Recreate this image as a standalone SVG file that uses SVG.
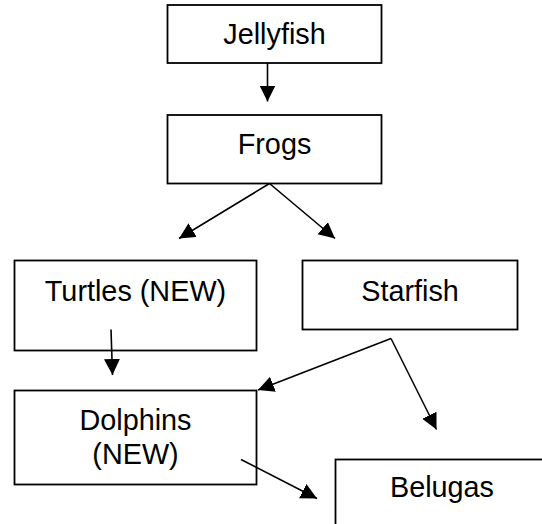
<svg xmlns="http://www.w3.org/2000/svg" width="542" height="524" viewBox="0 0 542 524">
<defs>
<marker id="ah" markerUnits="userSpaceOnUse" markerWidth="17" markerHeight="17" refX="16" refY="8" orient="auto">
<path d="M0,0 L16,8 L0,16 z" fill="#000"/>
</marker>
<style>
.box{fill:#fff;stroke:#000;stroke-width:1.8}
.t{font-family:"Liberation Sans",Arial,sans-serif;font-size:28.8px;fill:#000;text-anchor:middle}
.c{stroke:#000;stroke-width:1.6;fill:none;marker-end:url(#ah)}
</style>
</defs>
<rect width="542" height="524" fill="#fff"/>
<g id="jellyfish"><rect class="box" x="167.5" y="5" width="214" height="58"/><text class="t" x="274.5" y="43.5">Jellyfish</text></g>
<g id="frogs"><rect class="box" x="167.5" y="115" width="214" height="68.5"/><text class="t" x="274.5" y="153.5">Frogs</text></g>
<g id="turtles"><rect class="box" x="14.5" y="260.5" width="242" height="90"/><text class="t" x="135.5" y="301">Turtles (NEW)</text></g>
<g id="starfish"><rect class="box" x="302.5" y="260.5" width="215" height="69"/><text class="t" x="410" y="300.5">Starfish</text></g>
<g id="dolphins"><rect class="box" x="14.5" y="390.5" width="242" height="94"/><text class="t" x="135.5" y="429.5">Dolphins</text><text class="t" x="135.5" y="463.5">(NEW)</text></g>
<g id="belugas"><rect class="box" x="335.5" y="459.5" width="220" height="80"/><text class="t" x="442" y="496.5">Belugas</text></g>
<g id="connectors">
<line class="c" x1="267.5" y1="63" x2="267.5" y2="101.5"/>
<line class="c" x1="269.5" y1="183.5" x2="179" y2="238.5"/>
<line class="c" x1="269.5" y1="183.5" x2="335" y2="238.5"/>
<line class="c" x1="111" y1="329.5" x2="112.5" y2="375"/>
<line class="c" x1="391" y1="338.5" x2="258" y2="390"/>
<line class="c" x1="391" y1="338.5" x2="436.5" y2="429.5"/>
<line class="c" x1="241" y1="459.5" x2="317" y2="498.5"/>
</g>
</svg>
